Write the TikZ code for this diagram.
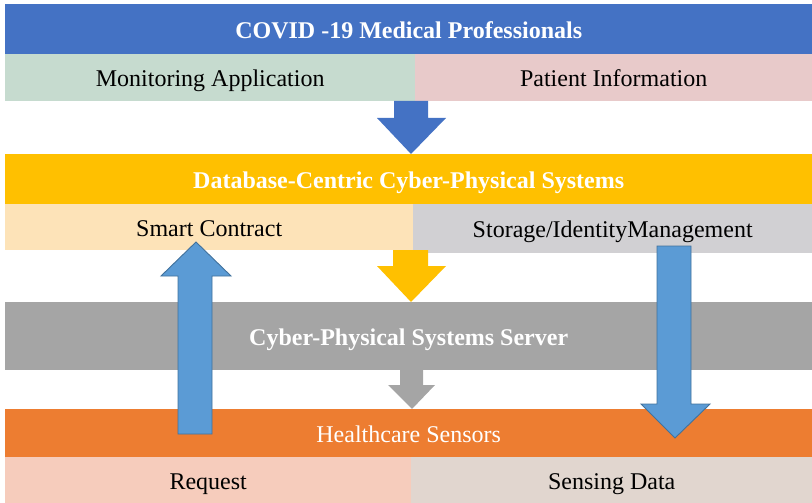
\documentclass[tikz,border=0pt]{standalone}
\usepackage{fontspec}
\setmainfont{Liberation Serif}
\definecolor{hdBlue}{HTML}{4472C4}
\definecolor{hdYellow}{HTML}{FFC000}
\definecolor{hdGray}{HTML}{A5A5A5}
\definecolor{hdOrange}{HTML}{ED7D31}
\definecolor{cGreen}{HTML}{C6DBCF}
\definecolor{cPink}{HTML}{E8CACA}
\definecolor{cPeach}{HTML}{FDE3B8}
\definecolor{cLightGray}{HTML}{D1D0D3}
\definecolor{cSalmon}{HTML}{F6CCBC}
\definecolor{cBeige}{HTML}{E1D6CF}
\definecolor{flowFill}{HTML}{5B9BD5}
\definecolor{flowLine}{HTML}{41719C}
\begin{document}
\begin{tikzpicture}[x=1pt,y=-1pt,
  band/.style={rectangle, inner sep=0pt, anchor=north west, text=white,
    text height=18pt, text depth=0pt,
    font=\fontsize{24}{28}\selectfont\bfseries},
  cell/.style={rectangle, inner sep=0pt, anchor=north west, text=black,
    text height=18pt, text depth=0pt,
    font=\fontsize{24}{28}\selectfont},
  flow/.style={fill=flowFill, draw=flowLine, line width=0.9pt, line join=miter}]
\useasboundingbox (0,0) rectangle (812,503);

% layer 1: medical professionals
\node[band, fill=hdBlue, minimum width=807pt, minimum height=50pt] (prof) at (5,4) {COVID -19 Medical Professionals};
\node[cell, fill=cGreen, minimum width=410pt, minimum height=47pt] (monitor) at (5,54) {Monitoring Application};
\node[cell, fill=cPink, minimum width=397pt, minimum height=47pt] (patient) at (415,54) {Patient Information};

% layer 2: database-centric CPS
\node[band, fill=hdYellow, minimum width=807pt, minimum height=50pt] (dbcps) at (5,154) {Database-Centric Cyber-Physical Systems};
\node[cell, fill=cPeach, minimum width=408pt, minimum height=46pt] (smart) at (5,204) {Smart Contract};
\node[cell, fill=cLightGray, minimum width=399pt, minimum height=49pt] (storage) at (413,204) {Storage/IdentityManagement};

% layer 3: CPS server
\node[band, fill=hdGray, minimum width=807pt, minimum height=68pt] (server) at (5,302) {Cyber-Physical Systems Server};

% layer 4: healthcare sensors
\node[band, fill=hdOrange, minimum width=807pt, minimum height=48pt, font=\fontsize{24}{28}\selectfont] (sensors) at (5,409) {Healthcare Sensors};
\node[cell, fill=cSalmon, minimum width=406pt, minimum height=46pt] (request) at (5,457) {Request};
\node[cell, fill=cBeige, minimum width=401pt, minimum height=46pt] (sensing) at (411,457) {Sensing Data};

% block arrows between the layers
\fill[hdBlue] (394,101) -- (428,101) -- (428,118) -- (446,118) -- (411,154)
  -- (377,118) -- (394,118) -- cycle;
\fill[hdYellow] (393,250) -- (428,250) -- (428,266) -- (446,266) -- (411,302)
  -- (377,266) -- (393,266) -- cycle;
\fill[hdGray] (400,370) -- (423,370) -- (423,385) -- (435,385) -- (412,409)
  -- (388,385) -- (400,385) -- cycle;

% request flow up to the smart contract
\draw[flow] (178,434) -- (212,434) -- (212,276) -- (231,276) -- (196,242)
  -- (161,276) -- (178,276) -- cycle;
% data flow down from storage to the sensors
\draw[flow] (657,246) -- (691,246) -- (691,404) -- (710,404) -- (675,438)
  -- (641,404) -- (657,404) -- cycle;
\end{tikzpicture}
\end{document}
